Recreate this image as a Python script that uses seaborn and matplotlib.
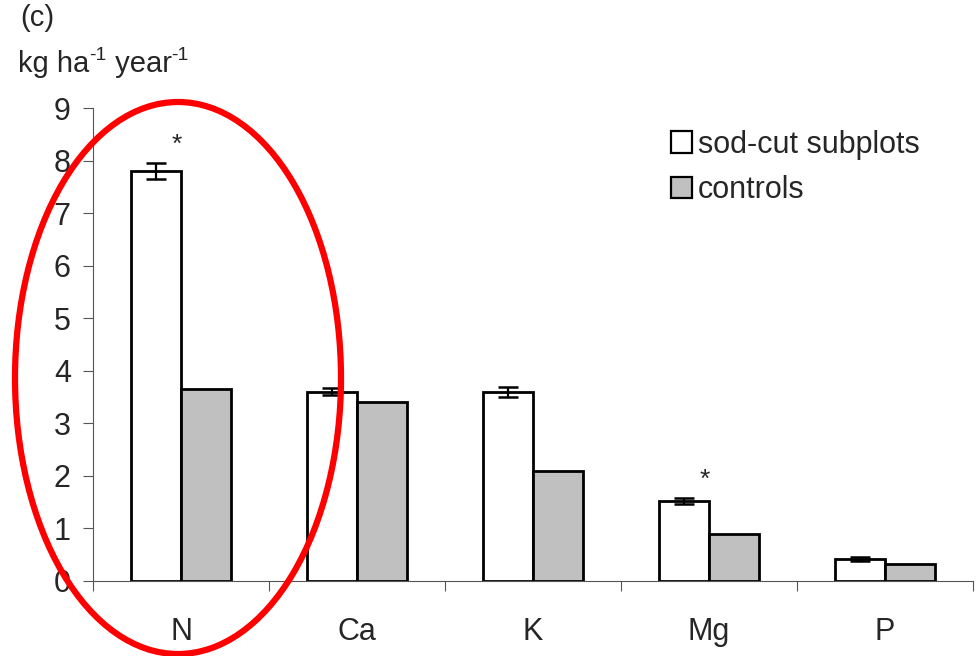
import matplotlib
matplotlib.use("Agg")
import matplotlib.pyplot as plt
import seaborn as sns
import pandas as pd
import numpy as np
from matplotlib.patches import Ellipse
from matplotlib.transforms import offset_copy

categories = ["N", "Ca", "K", "Mg", "P"]
series_names = ["sod-cut subplots", "controls"]
sodcut_values = [7.80, 3.60, 3.60, 1.52, 0.42]
sodcut_errors = [0.15, 0.07, 0.10, 0.05, 0.04]
control_values = [3.65, 3.41, 2.09, 0.89, 0.33]
significant = [True, False, False, True, False]
y_ticks = [0, 1, 2, 3, 4, 5, 6, 7, 8, 9]

sns.set_style("white")
plt.rcParams["font.family"] = ["Liberation Sans", "DejaVu Sans"]

df = pd.DataFrame({
    "element": categories * 2,
    "series": [series_names[0]] * len(categories) + [series_names[1]] * len(categories),
    "value": sodcut_values + control_values,
})

fig = plt.figure(figsize=(9.8, 6.56), dpi=100)
ax = fig.add_axes([93 / 980, 1 - 581 / 656, (973 - 93) / 980, (581 - 108) / 656])

sns.barplot(data=df, x="element", y="value", hue="series", order=categories,
            hue_order=series_names, palette=["white", "#c0c0c0"], width=0.57,
            edgecolor="black", linewidth=2.0, errorbar=None, ax=ax, legend=True)

# error bars on sod-cut bars
sod_patches = ax.containers[0]
xs = [p.get_x() + p.get_width() / 2 for p in sod_patches]
ax.errorbar(xs, sodcut_values, yerr=sodcut_errors, fmt="none", ecolor="black",
            elinewidth=1.6, capsize=7, capthick=1.8, zorder=5)
for x, v, e, s in zip(xs, sodcut_values, sodcut_errors, significant):
    if s:
        ax.text(x + 0.12, v + e + 0.12, "*", ha="center", va="bottom", fontsize=19)

ax.set_ylim(0, 9)
ax.set_xlim(-0.5, len(categories) - 0.5)
ax.set_yticks(y_ticks)
ax.set_yticklabels([str(t) for t in y_ticks])
ax.set_xticks(np.arange(-0.5, len(categories), 1.0))
ax.set_xticklabels([])
ax.set_xticks(range(len(categories)), minor=True)
ax.set_xticklabels(categories, minor=True)
ax.tick_params(axis="x", which="major", bottom=True, direction="out", length=7, width=0.8, color="#555555")
ax.tick_params(axis="x", which="minor", bottom=True, length=0, pad=26, labelsize=22)
ax.tick_params(axis="y", left=True, direction="out", length=7, width=0.8, color="#555555", pad=9, labelsize=22)
ax.set_xlabel("")
ax.set_ylabel("")
for side in ["top", "right"]:
    ax.spines[side].set_visible(False)
for side in ["left", "bottom"]:
    ax.spines[side].set_color("#555555")
    ax.spines[side].set_linewidth(0.8)

leg = ax.legend(loc="upper left", bbox_to_anchor=(0.625, 1.012), frameon=False, fontsize=22,
                handlelength=0.7, handleheight=0.7, handletextpad=0.2, labelspacing=0.5)
for h in leg.legend_handles:
    h.set_linewidth(1.6)
    h.set_edgecolor("black")

fig.text(20 / 980, 1 - 18 / 656, "(c)", fontsize=21, ha="left", va="center")

# unit label with hyphen superscripts, laid out piece by piece
renderer = fig.canvas.get_renderer()
pieces = [("kg ha", 21, 0), ("-1", 14, 9), (" year", 21, 0), ("-1", 14, 9)]
trans = fig.transFigure
x0, y0 = 18 / 980, 1 - 72 / 656
t = None
cur_trans = trans
for txt, size, rise in pieces:
    t = fig.text(x0, y0, txt, fontsize=size, ha="left", va="baseline",
                 transform=offset_copy(cur_trans, fig=fig, x=0, y=rise, units="points"))
    fig.canvas.draw()
    bb = t.get_window_extent(renderer=renderer)
    cur_trans = offset_copy(trans, fig=fig, x=bb.x1 - x0 * fig.bbox.width, y=0, units="dots")
    x0_dummy = None

ell = Ellipse((178 / 980, 1 - 378 / 656), 326 / 980, 552 / 656, transform=fig.transFigure,
              fill=False, edgecolor="#ff0000", linewidth=4.5, clip_on=False, zorder=10)
fig.add_artist(ell)

fig.savefig("out.png", dpi=100)
